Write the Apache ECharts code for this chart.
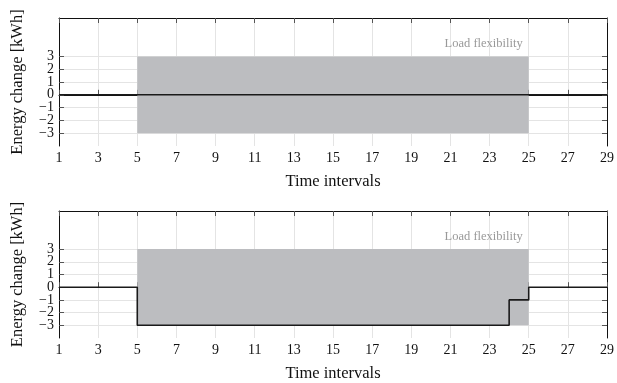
<!DOCTYPE html>
<html>
<head>
<meta charset="utf-8">
<script src="https://cdn.jsdelivr.net/npm/echarts@6/dist/echarts.min.js"></script>
<style>
  html, body { margin: 0; padding: 0; background: #fff; }
  #chart { width: 617px; height: 383px; }
</style>
</head>
<body>
<div id="chart"></div>
<script>
// time intervals 1..29
var intervals = [];
for (var t = 1; t <= 29; t++) intervals.push(t);

// energy change per interval (step, value holds until the next interval)
var topValues = [0, 0, 0, 0, 0, 0, 0, 0, 0, 0, 0, 0, 0, 0, 0, 0, 0, 0, 0, 0, 0, 0, 0, 0, 0, 0, 0, 0, 0];
var bottomValues = [0, 0, 0, 0, -3, -3, -3, -3, -3, -3, -3, -3, -3, -3, -3, -3, -3, -3, -3, -3, -3, -3, -3, -1, 0, 0, 0, 0, 0];

// flexibility band
var flexStart = 5, flexEnd = 25, flexLow = -3, flexHigh = 3;

var xTicks = [1, 3, 5, 7, 9, 11, 13, 15, 17, 19, 21, 23, 25, 27, 29];
var yTicks = [-3, -2, -1, 0, 1, 2, 3];
// labels are split over two stacked left axes so none get hidden as overlapping
var yLabelsOdd = [-3, -1, 1, 3];
var yLabelsEven = [-2, 0, 2];

var FONT = "'Liberation Serif', 'DejaVu Serif', serif";

function pairs(vals) {
  return intervals.map(function (x, i) { return [x, vals[i]]; });
}

function fmtMinus(v) { return String(v).replace('-', '\u2212'); }

var grids = [
  { left: 59, top: 18, width: 548, height: 128 },
  { left: 59, top: 211, width: 548, height: 127 }
];

var labelStyle = { fontFamily: FONT, fontSize: 14, color: '#111', margin: 5 };

var xAxes = [], yAxes = [], series = [];
grids.forEach(function (g, i) {
  // bottom x axis
  xAxes.push({
    gridIndex: i, type: 'value', min: 1, max: 29,
    name: 'Time intervals', nameLocation: 'middle', nameGap: 27,
    nameTextStyle: { fontFamily: FONT, fontSize: 16.5, color: '#111' },
    axisLine: { lineStyle: { color: '#111', width: 1 } },
    axisTick: { inside: true, length: 5, customValues: xTicks, lineStyle: { color: '#555' } },
    axisLabel: Object.assign({ customValues: xTicks, hideOverlap: false }, labelStyle),
    splitLine: { show: true, lineStyle: { color: '#e4e4e4', width: 1 } }
  });
  // top frame
  xAxes.push({
    gridIndex: i, type: 'value', min: 1, max: 29, position: 'top',
    axisLine: { show: true, onZero: false, lineStyle: { color: '#111', width: 1 } },
    axisTick: { inside: true, length: 5, customValues: xTicks, lineStyle: { color: '#555' } },
    axisLabel: { show: false },
    splitLine: { show: false }
  });
  // left y axis (odd labels)
  yAxes.push({
    gridIndex: i, type: 'value', min: -4, max: 6, position: 'left',
    name: 'Energy change [kWh]', nameLocation: 'middle', nameGap: 33, nameRotate: 90,
    nameTextStyle: { fontFamily: FONT, fontSize: 16.5, color: '#111' },
    axisLine: { show: true, onZero: false, lineStyle: { color: '#111', width: 1 } },
    axisTick: { inside: true, length: 5, customValues: yTicks, lineStyle: { color: '#555' } },
    axisLabel: Object.assign({ customValues: yLabelsOdd, formatter: fmtMinus, showMinLabel: true, showMaxLabel: true }, labelStyle),
    splitLine: { show: false }
  });
  // right frame
  yAxes.push({
    gridIndex: i, type: 'value', min: -4, max: 6, position: 'right',
    axisLine: { show: true, onZero: false, lineStyle: { color: '#111', width: 1 } },
    axisTick: { inside: true, length: 5, customValues: yTicks, lineStyle: { color: '#555' } },
    axisLabel: { show: false },
    splitLine: { show: false }
  });
  // left y axis (even labels)
  yAxes.push({
    gridIndex: i, type: 'value', min: -4, max: 6, position: 'left', offset: 0,
    axisLine: { show: false },
    axisTick: { show: false },
    axisLabel: Object.assign({ customValues: yLabelsEven, formatter: fmtMinus, showMinLabel: true, showMaxLabel: true }, labelStyle),
    splitLine: { show: false }
  });

  var xi = i * 2, yi = i * 3;

  // horizontal grid lines at the labelled values only
  series.push({
    type: 'line',
    xAxisIndex: xi, yAxisIndex: yi,
    data: [],
    z: 0,
    silent: true,
    markLine: {
      z: 0,
      silent: true,
      symbol: 'none',
      label: { show: false },
      lineStyle: { color: '#e4e4e4', width: 1, type: 'solid' },
      data: yTicks.map(function (v) { return { yAxis: v }; })
    }
  });

  // flexibility band
  series.push({
    type: 'line',
    xAxisIndex: xi, yAxisIndex: yi,
    data: [],
    z: 1,
    silent: true,
    markArea: {
      z: 2,
      silent: true,
      itemStyle: { color: '#bcbdc0' },
      label: {
        show: true,
        position: ['100%', 0],
        align: 'right',
        verticalAlign: 'bottom',
        offset: [-6, -6],
        fontFamily: FONT,
        fontSize: 12.5,
        color: '#999'
      },
      data: [[
        { name: 'Load flexibility', coord: [flexStart, flexHigh] },
        { coord: [flexEnd, flexLow] }
      ]]
    }
  });

  series.push({
    type: 'line',
    xAxisIndex: xi, yAxisIndex: yi,
    data: pairs(i === 0 ? topValues : bottomValues),
    step: 'end',
    symbol: 'none',
    silent: true,
    z: 5,
    lineStyle: { color: '#1a1a1a', width: 1.6 }
  });
});

var chart = echarts.init(document.getElementById('chart'));
chart.setOption({
  animation: false,
  backgroundColor: '#fff',
  grid: grids,
  xAxis: xAxes,
  yAxis: yAxes,
  series: series
});
</script>
</body>
</html>
